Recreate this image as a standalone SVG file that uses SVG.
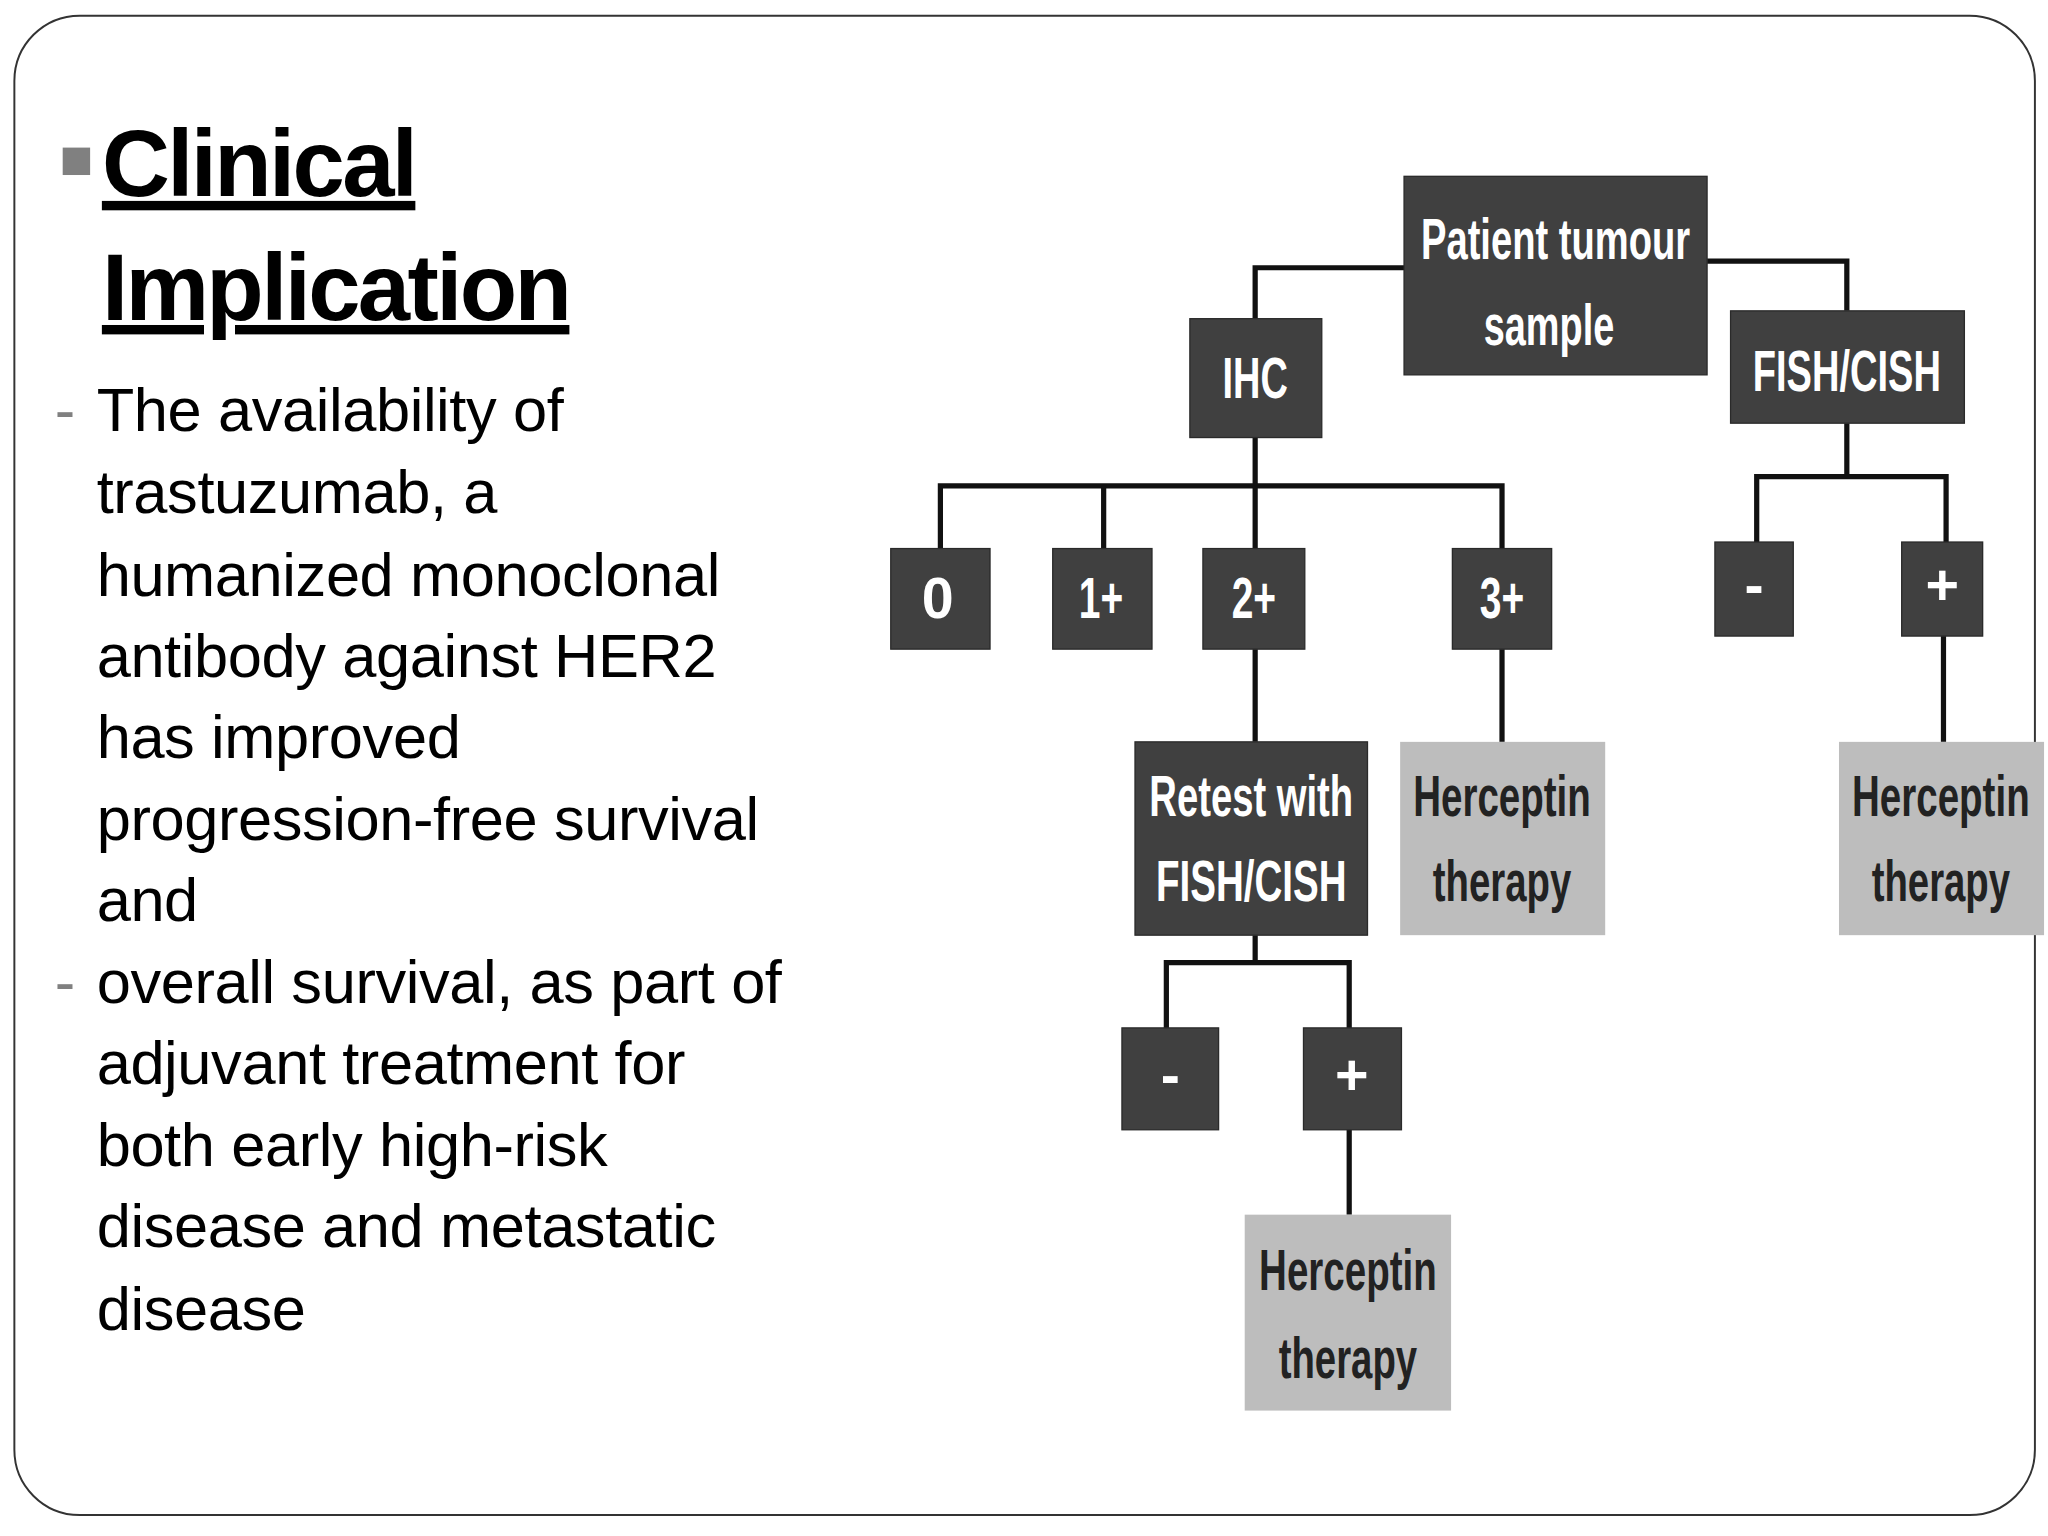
<svg xmlns="http://www.w3.org/2000/svg" width="2048" height="1536" viewBox="0 0 2048 1536">
<style>
.d{fill:#404040;stroke:#2a2a2a;stroke-width:1}
.l{fill:#bdbdbd}
.nt{font-family:"Liberation Sans",Arial,sans-serif;font-weight:bold;font-size:44px;text-anchor:middle}
.w{fill:#fff}.k{fill:#222}
.c{fill:none;stroke:#111;stroke-width:4}
.b{font-family:"Liberation Sans",Arial,sans-serif;font-size:47px;fill:#000;letter-spacing:-0.3px}
</style>
<rect x="0" y="0" width="2048" height="1536" fill="#fff"/>
<g transform="scale(1.3061)">
<rect x="11" y="12" width="1547" height="1148" rx="50" fill="#fff" stroke="#333" stroke-width="1.5"/>
<rect x="48" y="113" width="21" height="21" fill="#808080"/>
<g font-family="Liberation Sans,Arial,sans-serif" font-weight="bold" font-size="72" text-decoration="underline" letter-spacing="-2">
<text x="78" y="150">Clinical</text>
<text x="78" y="245">Implication</text>
</g>
<text x="42" y="330" class="b" style="fill:#808080">-</text>
<text x="42" y="768" class="b" style="fill:#808080">-</text>
<g class="b">
<text x="74" y="330">The availability of</text>
<text x="74" y="393">trastuzumab, a</text>
<text x="74" y="456">humanized monoclonal</text>
<text x="74" y="518">antibody  against HER2</text>
<text x="74" y="580">has improved</text>
<text x="74" y="643">progression-free survival</text>
<text x="74" y="705">and</text>
<text x="74" y="768">overall survival, as part of</text>
<text x="74" y="830">adjuvant  treatment for</text>
<text x="74" y="893">both early high-risk</text>
<text x="74" y="955">disease and metastatic</text>
<text x="74" y="1018">disease</text>
</g>
<g id="connectors" class="c">
<polyline points="1075,205 961,205 961,244"/>
<polyline points="1307,200 1414,200 1414,238"/>
<line x1="961" y1="335" x2="961" y2="372"/>
<polyline points="720,420 720,372 1150,372 1150,420"/>
<line x1="845" y1="372" x2="845" y2="420"/>
<line x1="961" y1="372" x2="961" y2="420"/>
<line x1="961" y1="497" x2="961" y2="568"/>
<line x1="1150" y1="497" x2="1150" y2="568"/>
<line x1="1414" y1="324" x2="1414" y2="365"/>
<polyline points="1345,415 1345,365 1490,365 1490,415"/>
<line x1="1488" y1="487" x2="1488" y2="568"/>
<line x1="961" y1="716" x2="961" y2="737"/>
<polyline points="893,787 893,737 1033,737 1033,787"/>
<line x1="1033" y1="865" x2="1033" y2="930"/>
</g>
<g id="patient"><rect class="d" x="1075" y="135" width="232" height="152"/><text class="nt w" x="1191" y="198" textLength="206" lengthAdjust="spacingAndGlyphs">Patient tumour</text><text class="nt w" x="1186" y="264" textLength="100" lengthAdjust="spacingAndGlyphs">sample</text></g>
<g id="ihc"><rect class="d" x="911" y="244" width="101" height="91"/><text class="nt w" x="961" y="305" textLength="50" lengthAdjust="spacingAndGlyphs">IHC</text></g>
<g id="fish"><rect class="d" x="1325" y="238" width="179" height="86"/><text class="nt w" x="1414" y="299" textLength="144" lengthAdjust="spacingAndGlyphs">FISH/CISH</text></g>
<g id="n0"><rect class="d" x="682" y="420" width="76" height="77"/><text class="nt w" x="718" y="473">0</text></g>
<g id="n1"><rect class="d" x="806" y="420" width="76" height="77"/><text class="nt w" x="843" y="473" textLength="34" lengthAdjust="spacingAndGlyphs">1+</text></g>
<g id="n2"><rect class="d" x="921" y="420" width="78" height="77"/><text class="nt w" x="960" y="473" textLength="34" lengthAdjust="spacingAndGlyphs">2+</text></g>
<g id="n3"><rect class="d" x="1112" y="420" width="76" height="77"/><text class="nt w" x="1150" y="473" textLength="34" lengthAdjust="spacingAndGlyphs">3+</text></g>
<g id="fneg"><rect class="d" x="1313" y="415" width="60" height="72"/><text class="nt w" x="1343" y="463">-</text></g>
<g id="fpos"><rect class="d" x="1456" y="415" width="62" height="72"/><text class="nt w" x="1487" y="463">+</text></g>
<g id="retest"><rect class="d" x="869" y="568" width="178" height="148"/><text class="nt w" x="958" y="625" textLength="156" lengthAdjust="spacingAndGlyphs">Retest with</text><text class="nt w" x="958" y="690" textLength="146" lengthAdjust="spacingAndGlyphs">FISH/CISH</text></g>
<g id="herc1"><rect class="l" x="1072" y="568" width="157" height="148"/><text class="nt k" x="1150" y="625" textLength="136" lengthAdjust="spacingAndGlyphs">Herceptin</text><text class="nt k" x="1150" y="690" textLength="106" lengthAdjust="spacingAndGlyphs">therapy</text></g>
<g id="herc2"><rect class="l" x="1408" y="568" width="157" height="148"/><text class="nt k" x="1486" y="625" textLength="136" lengthAdjust="spacingAndGlyphs">Herceptin</text><text class="nt k" x="1486" y="690" textLength="106" lengthAdjust="spacingAndGlyphs">therapy</text></g>
<g id="rneg"><rect class="d" x="859" y="787" width="74" height="78"/><text class="nt w" x="896" y="838">-</text></g>
<g id="rpos"><rect class="d" x="998" y="787" width="75" height="78"/><text class="nt w" x="1035" y="838">+</text></g>
<g id="herc3"><rect class="l" x="953" y="930" width="158" height="150"/><text class="nt k" x="1032" y="988" textLength="136" lengthAdjust="spacingAndGlyphs">Herceptin</text><text class="nt k" x="1032" y="1055" textLength="106" lengthAdjust="spacingAndGlyphs">therapy</text></g>
</g>
</svg>
